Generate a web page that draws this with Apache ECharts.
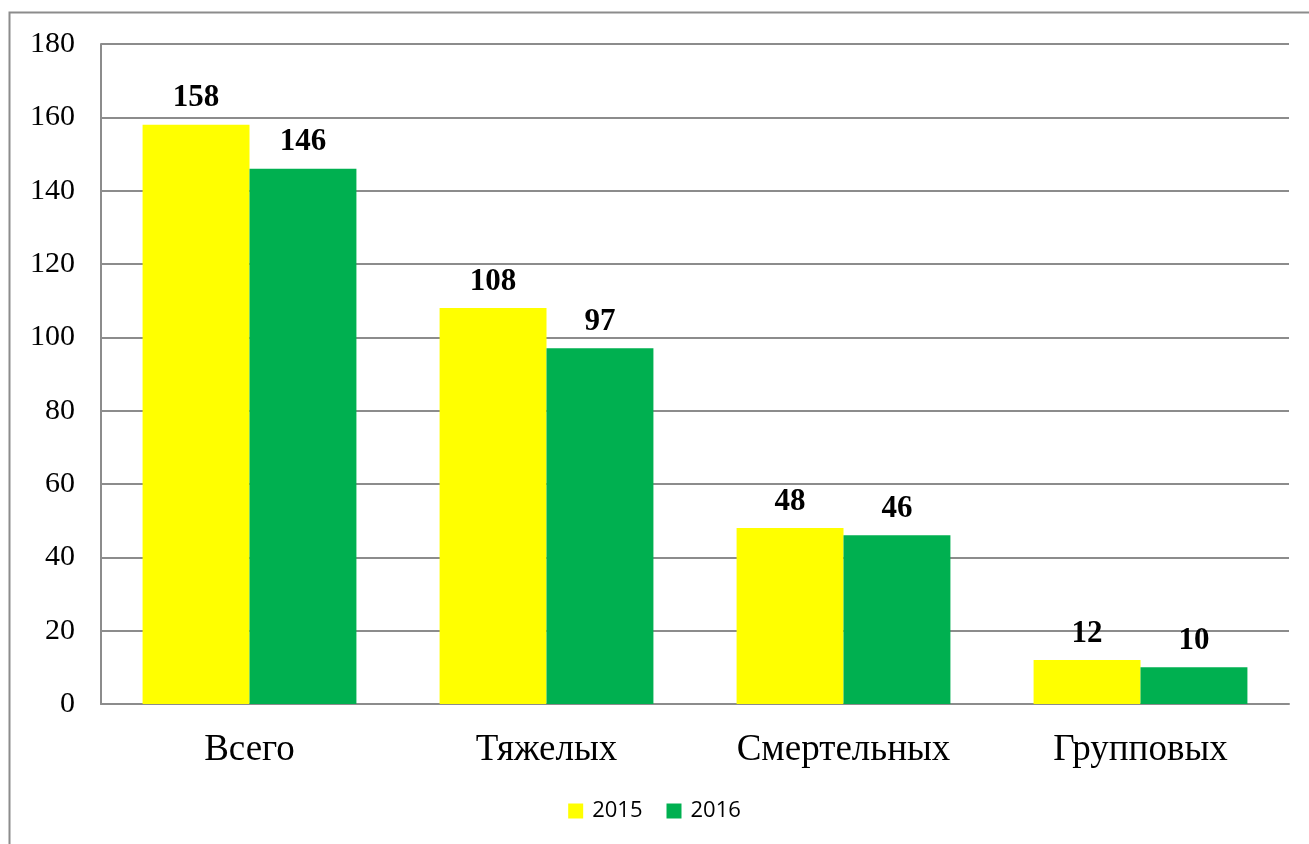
<!DOCTYPE html>
<html><head><meta charset="utf-8">
<script src="https://cdn.jsdelivr.net/npm/echarts@6/dist/echarts.min.js"></script>
<style>html,body{margin:0;padding:0;background:#fff}#c{width:1309px;height:844px}</style>
</head><body><div id="c"></div>
<script>
const categories = ['Всего', 'Тяжелых', 'Смертельных', 'Групповых'];
const s2015 = [158, 108, 48, 12];
const s2016 = [146, 97, 46, 10];
const yTicks = {min: 0, max: 180, interval: 20};

const chart = echarts.init(document.getElementById('c'));
const lbl = {show: true, position: 'top', distance: 11, color: '#000', fontFamily: 'Liberation Serif', fontWeight: 'bold', fontSize: 31};
chart.setOption({
  animation: false,
  graphic: [{type: 'rect', shape: {x: 9.5, y: 12.5, width: 1400, height: 900}, style: {fill: 'none', stroke: '#8c8c8c', lineWidth: 2}, z: -1}],
  legend: {bottom: 17, left: 'center', itemWidth: 15, itemHeight: 15, itemGap: 24, icon: 'rect',
    textStyle: {fontFamily: 'Open Sans', fontSize: 22, color: '#000', padding: [0, 0, 0, 4]}, data: ['2015', '2016']},
  grid: {left: 101, right: 20, top: 44, bottom: 140},
  xAxis: {type: 'category', data: categories,
    axisLine: {lineStyle: {color: '#8c8c8c', width: 2}}, axisTick: {show: false},
    axisLabel: {fontFamily: 'Liberation Serif', fontSize: 37, color: '#000', margin: 28}},
  yAxis: {type: 'value', min: yTicks.min, max: yTicks.max, interval: yTicks.interval,
    axisLine: {show: true, lineStyle: {color: '#8c8c8c', width: 2}}, axisTick: {show: false},
    axisLabel: {fontFamily: 'Liberation Serif', fontSize: 30, color: '#000', margin: 26},
    splitLine: {lineStyle: {color: '#8c8c8c', width: 2}}},
  series: [
    {name: '2015', type: 'bar', data: s2015, itemStyle: {color: '#ffff00'}, barGap: '0%', barCategoryGap: '28%', label: lbl},
    {name: '2016', type: 'bar', data: s2016, itemStyle: {color: '#00b050'}, barGap: '0%', barCategoryGap: '28%', label: lbl}
  ]
});
</script></body></html>
